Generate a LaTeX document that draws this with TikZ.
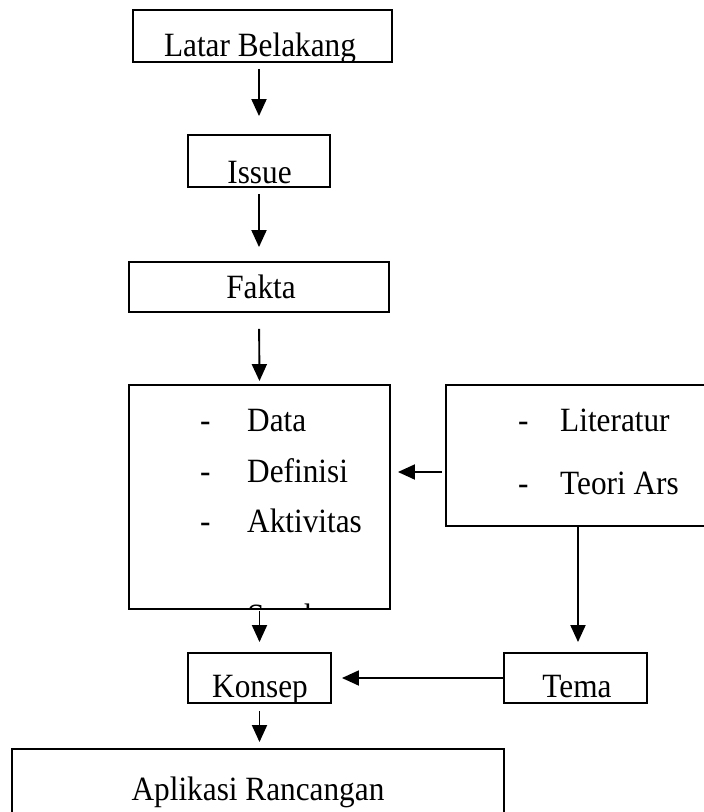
\documentclass[tikz,border=0pt]{standalone}
\usepackage{fontspec}
\usepackage{graphicx}
\setmainfont{Liberation Serif}
\usetikzlibrary{arrows.meta}
\newcommand{\cw}[1]{\scalebox{0.92}[1]{#1}}
\tikzset{
  boxnode/.style={draw=black, line width=1.9pt, rectangle, inner sep=0pt, fill=none},
  txt/.style={anchor=base, inner sep=0pt, font=\fontsize{34}{40}\selectfont},
  ltxt/.style={anchor=base west, inner sep=0pt, font=\fontsize{34}{40}\selectfont},
  arr/.style={line width=1.9pt, -{Triangle[length=17pt,width=15pt]}}
}
\begin{document}
\begin{tikzpicture}[x=1pt,y=-1pt]
\useasboundingbox (0,0) rectangle (704,812);
% boxes
\node[boxnode, minimum width=259pt, minimum height=52pt] (latar) at (262.5,36) {};
\node[boxnode, minimum width=142pt, minimum height=52pt] (issue) at (259,161) {};
\node[boxnode, minimum width=260pt, minimum height=50pt] (fakta) at (259,287) {};
\node[boxnode, minimum width=261pt, minimum height=224pt] (data) at (259.5,497) {};
\node[boxnode, minimum width=284pt, minimum height=141pt] (lit) at (588,455.5) {};
\node[boxnode, minimum width=143pt, minimum height=50pt] (konsep) at (259.5,678) {};
\node[boxnode, minimum width=143pt, minimum height=50pt] (tema) at (575.5,678) {};
\node[boxnode, minimum width=492pt, minimum height=82pt] (aplikasi) at (258,790) {};
% texts (clipped by their boxes)
\begin{scope}
  \clip ([shift={(0.95pt,0.95pt)}]latar.south west) rectangle ([shift={(-0.95pt,-0.95pt)}]latar.north east);
  \node[txt] (tlatar) at (260,56) {\cw{Latar Belakang}};
\end{scope}
\begin{scope}
  \clip ([shift={(0.95pt,0.95pt)}]issue.south west) rectangle ([shift={(-0.95pt,-0.95pt)}]issue.north east);
  \node[txt] (tissue) at (259.5,183) {\cw{Issue}};
\end{scope}
\node[txt] (tfakta) at (261,298) {\cw{Fakta}};
\begin{scope}
  \clip ([shift={(0.95pt,0.95pt)}]data.south west) rectangle ([shift={(-0.95pt,-0.95pt)}]data.north east);
  \node[ltxt] (d1) at (200,431) {\cw{-}};
  \node[ltxt] (t1) at (247,431) {\cw{Data}};
  \node[ltxt] (d2) at (200,482) {\cw{-}};
  \node[ltxt] (t2) at (247,482) {\cw{Definisi}};
  \node[ltxt] (d3) at (200,532) {\cw{-}};
  \node[ltxt] (t3) at (247,532) {\cw{Aktivitas}};
  \node[ltxt] (t4) at (247,627) {\cw{Sumber}};
\end{scope}
\node[ltxt] (l1) at (518,431) {\cw{-}};
\node[ltxt] (tl1) at (560,431) {\cw{Literatur}};
\node[ltxt] (l2) at (518,494) {\cw{-}};
\node[ltxt] (tl2) at (560,494) {\cw{Teori Ars}};
\begin{scope}
  \clip ([shift={(0.95pt,0.95pt)}]konsep.south west) rectangle ([shift={(-0.95pt,-0.95pt)}]konsep.north east);
  \node[txt] (tkonsep) at (260,697) {\cw{Konsep}};
\end{scope}
\node[txt] (ttema) at (577,697) {\cw{Tema}};
\node[txt] (tapl) at (258,800) {\cw{Aplikasi Rancangan}};
% connectors
\coordinate (ay) at (0,472);
\draw[arr, shorten <=6pt, shorten >=18pt] (latar.south -| issue.north) -- (issue.north);
\draw[arr, shorten <=6pt, shorten >=14pt] (issue.south) -- (fakta.north);
\draw[arr, shorten <=16pt, shorten >=3pt] (fakta.south) -- (data.north);
\draw[arr, shorten <=3pt, shorten >=7pt] (lit.west |- ay) -- (data.east |- ay);
\draw[arr, shorten >=10pt] (lit.south -| 578,0) -- (tema.north -| 578,0);
\draw[arr, shorten <=1pt, shorten >=10pt] (data.south -| konsep.north) -- (konsep.north);
\draw[arr, shorten >=10pt] (tema.west) -- (konsep.east);
\draw[arr, shorten <=7pt, shorten >=6pt] (konsep.south) -- (aplikasi.north -| konsep.south);
\end{tikzpicture}
\end{document}
